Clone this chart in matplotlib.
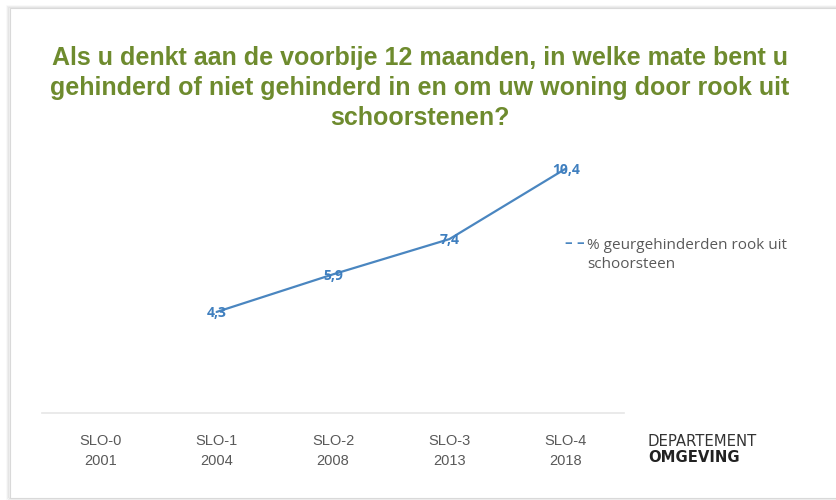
import matplotlib
matplotlib.use("Agg")
import matplotlib.pyplot as plt
from matplotlib.patches import Rectangle

categories = ["SLO-0\n2001", "SLO-1\n2004", "SLO-2\n2008", "SLO-3\n2013", "SLO-4\n2018"]
x_idx = [1, 2, 3, 4]
values = [4.3, 5.9, 7.4, 10.4]
value_labels = ["4,3", "5,9", "7,4", "10,4"]
series_name = "% geurgehinderden rook uit\nschoorsteen"
title = ("Als u denkt aan de voorbije 12 maanden, in welke mate bent u\n"
         "gehinderd of niet gehinderd in en om uw woning door rook uit\n"
         "schoorstenen?")

W, H = 837, 500
fig = plt.figure(figsize=(W / 100, H / 100), dpi=100)
fig.patch.set_facecolor("white")

# slide frame with shadow
for i, a in enumerate([0.10, 0.07, 0.04]):
    fig.add_artist(Rectangle(((10 - 1 - i) / W, (H - 498 - i) / H), (840 - 10) / W, (498 - 8 + 2 * i) / H,
                             transform=fig.transFigure, facecolor="none",
                             edgecolor=(0.3, 0.3, 0.3, a), lw=1.2, zorder=-3))
fig.add_artist(Rectangle((10 / W, (H - 498) / H), (840 - 10) / W, (498 - 8) / H,
                         transform=fig.transFigure, facecolor="white",
                         edgecolor="#d9d9d9", lw=0.8, zorder=-2))

ax = fig.add_axes([42 / W, (H - 413) / H, 582 / W, 282 / H])
ax.set_zorder(1)
ax.set_facecolor("none")
ax.plot(x_idx, values, color="#4a86c0", lw=1.6, solid_capstyle="round")
for xi, v, lab in zip(x_idx, values, value_labels):
    ax.text(xi, v - 0.05, lab, ha="center", va="center", color="#3f7fbf",
            fontsize=10, fontweight="bold", family=["Open Sans", "DejaVu Sans"])
ax.set_xlim(-0.5, 4.5)
ax.set_ylim(0, 12)
ax.set_yticks([])
ax.set_xticks(range(len(categories)))
ax.set_xticklabels(categories, color="#595959", fontsize=10.5,
                   family=["Liberation Sans Narrow", "Liberation Sans", "DejaVu Sans"],
                   linespacing=1.6)
ax.tick_params(axis="x", length=0, pad=15)
for s in ["top", "right", "left"]:
    ax.spines[s].set_visible(False)
ax.spines["bottom"].set_color("#e6e6e6")
ax.spines["bottom"].set_linewidth(1.2)

fig.text(420 / W, 1 - 88 / H, title, ha="center", va="center", color="#6e8b2e",
         fontsize=18, fontweight="bold", family=["Liberation Sans", "DejaVu Sans"],
         linespacing=1.3)

# legend
fig.text(564 / W, 1 - 243 / H, "–", ha="left", va="center", color="#4a86c0",
         fontsize=11, fontweight="bold", family=["Open Sans", "DejaVu Sans"])
fig.text(576 / W, 1 - 243 / H, "–", ha="left", va="center", color="#4a86c0",
         fontsize=11, fontweight="bold", family=["Open Sans", "DejaVu Sans"])
fig.text(587 / W, 1 - 255 / H, series_name, ha="left", va="center", color="#595959",
         fontsize=11, family=["Open Sans", "DejaVu Sans"], linespacing=1.45)

# logo
fig.text(648 / W, 1 - 441 / H, "DEPARTEMENT", ha="left", va="center", color="#333333",
         fontsize=10.7, family=["Liberation Sans Narrow", "DejaVu Sans"])
fig.text(648 / W, 1 - 458 / H, "OMGEVING", ha="left", va="center", color="#222222",
         fontsize=10.7, fontweight="bold", family=["Liberation Sans Narrow", "DejaVu Sans"])

fig.savefig("out.png", dpi=100, facecolor="white")
